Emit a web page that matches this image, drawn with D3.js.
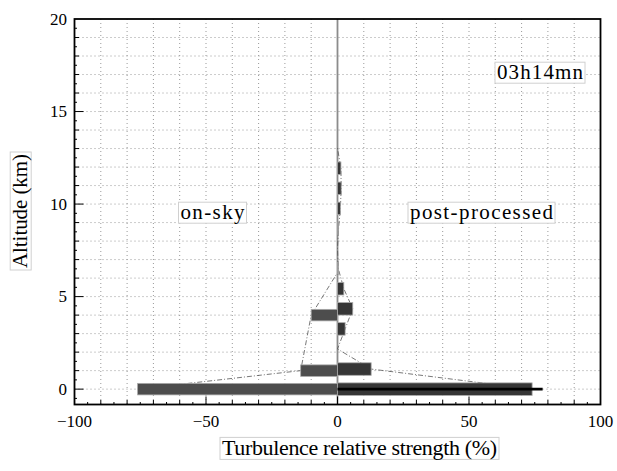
<!DOCTYPE html>
<html><head><meta charset="utf-8">
<script src="https://cdn.jsdelivr.net/npm/d3@7"></script>
</head><body>
<script>
// ---- data ----
const onSkyAlt = [0, 1, 4];
const onSkyVal = [-76, -14, -10];
const onSkyLineAlt = [0, 1, 4, 6.3];
const onSkyLineVal = [-76, -14, -10, 0];

const postAlt = [0, 1.085, 3.255, 4.34, 5.425, 6.51, 8.68, 9.765, 10.85, 11.935];
const postVal = [74, 12.8, 2.9, 5.8, 2.4, 0.3, 0.4, 1.1, 1.4, 1.3];
const postLineAlt = [0, 1.085, 2.17, 3.255, 4.34, 5.425, 6.51, 7.595, 8.68, 9.765, 10.85, 11.935, 13.02];
const postLineVal = [74, 12.8, 0, 2.9, 5.8, 2.4, 0.3, 0, 0.4, 1.1, 1.4, 1.3, 0];

const groundAlt = 0;
const groundVal = 78;

const xTicks = [-100, -50, 0, 50, 100];
const yTicks = [0, 5, 10, 15, 20];
const timeLabel = "03h14mn";
const leftLabel = "on-sky";
const rightLabel = "post-processed";
const xTitle = "Turbulence relative strength (%)";
const yTitle = "Altitude (km)";

// ---- layout ----
const W = 617, H = 471;
const L = 74.5, R = 600.5, T = 19, B = 404.5;
const x = d3.scaleLinear().domain([-100, 100]).range([L, R]);
const y = d3.scaleLinear().domain([-0.83, 20]).range([B, T]);

const svg = d3.select("body").append("svg").attr("width", W).attr("height", H)
  .style("position", "absolute").style("left", "0px").style("top", "0px");

// grid
const g = svg.append("g");
g.selectAll(".vg").data(d3.range(-90, 100, 10)).join("line")
  .attr("x1", d => x(d)).attr("x2", d => x(d)).attr("y1", T).attr("y2", B)
  .attr("stroke", "#999").attr("stroke-width", 1).attr("stroke-dasharray", "1,3");
g.selectAll(".hg").data(d3.range(0, 20, 1)).join("line")
  .attr("x1", L).attr("x2", R).attr("y1", d => y(d)).attr("y2", d => y(d))
  .attr("stroke", "#999").attr("stroke-width", 1).attr("stroke-dasharray", "1,3");

// center line
svg.append("line").attr("x1", x(0)).attr("x2", x(0)).attr("y1", T).attr("y2", B)
  .attr("stroke", "#8c8c8c").attr("stroke-width", 1.8);

// profile lines
const line = d3.line().x(d => x(d[0])).y(d => y(d[1]));
svg.append("path").datum(onSkyLineVal.map((v, i) => [v, onSkyLineAlt[i]]))
  .attr("d", line).attr("fill", "none").attr("stroke", "#555").attr("stroke-width", 0.8)
  .attr("stroke-dasharray", "5,2,1,2");
svg.append("path").datum(postLineVal.map((v, i) => [v, postLineAlt[i]]))
  .attr("d", line).attr("fill", "none").attr("stroke", "#555").attr("stroke-width", 0.8)
  .attr("stroke-dasharray", "5,2,1,2");

// bars
const hL = 11.5, hR = 12.5;
svg.selectAll(".lb").data(onSkyVal.map((v, i) => ({v, a: onSkyAlt[i]}))).join("rect")
  .attr("x", d => x(Math.min(0, d.v))).attr("width", d => Math.abs(x(d.v) - x(0)))
  .attr("y", d => y(d.a) - hL / 2).attr("height", hL)
  .attr("fill", "#4d4d4d").attr("stroke", "#a8a8a8").attr("stroke-width", 0.8);
svg.selectAll(".rb").data(postVal.map((v, i) => ({v, a: postAlt[i]}))).join("rect")
  .attr("x", x(0)).attr("width", d => Math.abs(x(d.v) - x(0)))
  .attr("y", d => y(d.a) - hR / 2).attr("height", hR)
  .attr("fill", "#363636").attr("stroke", "#a8a8a8").attr("stroke-width", 0.8);

// ground line
svg.append("line").attr("x1", x(0)).attr("x2", x(groundVal))
  .attr("y1", y(groundAlt)).attr("y2", y(groundAlt))
  .attr("stroke", "#000").attr("stroke-width", 2.8);

// frame
svg.append("rect").attr("x", L).attr("y", T).attr("width", R - L).attr("height", B - T)
  .attr("fill", "none").attr("stroke", "#000").attr("stroke-width", 1.8);

// ticks x (inside, bottom)
svg.append("g").selectAll("line").data(d3.range(-95, 100, 5)).join("line")
  .attr("x1", d => x(d)).attr("x2", d => x(d)).attr("y1", B)
  .attr("y2", d => B - (d % 50 === 0 ? 8 : d % 10 === 0 ? 4.5 : 2.5))
  .attr("stroke", "#000").attr("stroke-width", 1);
// ticks y (inside, left)
svg.append("g").selectAll("line").data(d3.range(-0.5, 20, 0.5)).join("line")
  .attr("y1", d => y(d)).attr("y2", d => y(d)).attr("x1", L)
  .attr("x2", d => L + (d % 5 === 0 ? 9 : d % 1 === 0 ? 4.5 : 2.5))
  .attr("stroke", "#000").attr("stroke-width", 1);

// text helper: same construction order as the text that rendered serif
function serifText(parent, px, py, size, str) {
  const t = parent.append("text").attr("x", px).attr("y", py).attr("font-size", size).text(str);
  t.style("font-family", '"Liberation Serif"');
  return t;
}

// tick labels
xTicks.forEach(d => {
  const t = serifText(svg, 0, 427, 17, d < 0 ? "\u2212" + Math.abs(d) : String(d));
  t.attr("x", x(d) - t.node().getComputedTextLength() / 2);
});
yTicks.forEach(d => {
  const t = serifText(svg, 0, y(d) + 5.5, 17, String(d));
  t.attr("x", 67 - t.node().getComputedTextLength());
});

// boxed labels
function boxed(txt, cx, baseline, size, len, rotate) {
  const gg = svg.append("g");
  if (rotate) gg.attr("transform", rotate);
  const r = gg.append("rect").attr("fill", "#fff").attr("stroke", "#d0d0d0").attr("stroke-width", 1);
  const t = serifText(gg, cx - len / 2, baseline, size, txt);
  t.attr("textLength", len).attr("lengthAdjust", "spacing");
  r.attr("x", cx - len / 2 - 2).attr("y", baseline - size * 0.8).attr("width", len + 4).attr("height", size * 1.0);
  return gg;
}
boxed(timeLabel, 540, 79, 21, 86);
boxed(leftLabel, 212.5, 219, 21, 64);
boxed(rightLabel, 481.5, 219, 21, 143);
boxed(xTitle, 359.5, 455, 22, 275);
boxed(yTitle, 0, 0, 21, 114, "translate(27,211) rotate(-90)");
</script>
</body></html>
